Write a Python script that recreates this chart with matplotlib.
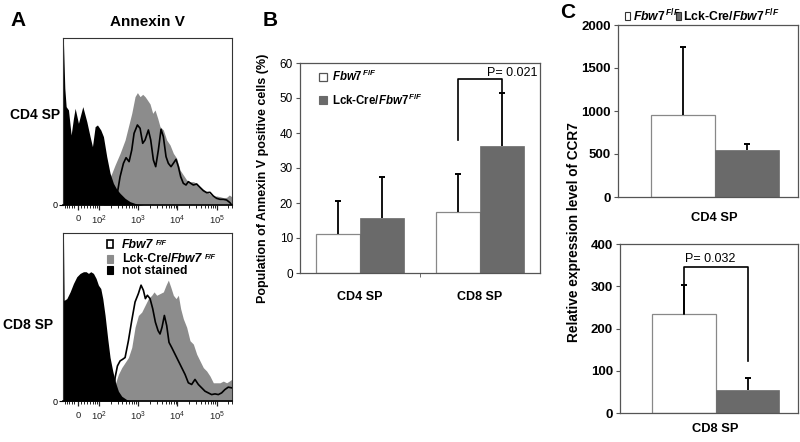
import matplotlib
matplotlib.use('Agg')
import matplotlib.pyplot as plt
from matplotlib.patches import Rectangle
from matplotlib.text import Annotation
import numpy as np

plt.rcParams['font.family'] = ['Liberation Sans', 'DejaVu Sans']
plt.rcParams['mathtext.fontset'] = 'custom'
plt.rcParams['mathtext.rm'] = 'Liberation Sans:bold'
plt.rcParams['mathtext.it'] = 'Liberation Sans:italic:bold'
plt.rcParams['mathtext.bf'] = 'Liberation Sans:bold'
plt.rcParams['mathtext.sf'] = 'Liberation Sans'

# ---------------- Panel A data (x in log-decade display units, y in % of max) ----
a1_black_x = [1.083, 1.10, 1.134, 1.168, 1.227, 1.295, 1.354, 1.397, 1.481, 1.592, 1.694, 1.778,
              1.838, 1.906, 1.965, 2.050, 2.118, 2.202, 2.287, 2.372, 2.457, 2.542, 2.669, 2.796,
              2.966, 3.135]
a1_black_y = [97, 97, 70, 59, 57, 42, 52, 58, 49, 59, 50, 41, 35, 47, 48, 45, 41, 29, 19, 13, 9.4,
              7, 4, 2, 0.6, 0]
a1_gray_x = [2.118, 2.202, 2.330, 2.414, 2.542, 2.669, 2.754, 2.839, 2.923, 2.983, 3.051, 3.118,
             3.178, 3.237, 3.305, 3.373, 3.432, 3.500, 3.559, 3.644, 3.729, 3.814, 3.899, 3.984,
             4.068, 4.153, 4.238, 4.323, 4.408, 4.493, 4.577, 4.662, 4.747, 4.832, 4.917, 5.001,
             5.086, 5.171, 5.256, 5.324, 5.383]
a1_gray_y = [0, 12, 19, 24, 31, 39, 47, 55, 65, 67.4, 65, 66.4, 65, 63, 60.6, 55, 57, 52, 47, 45,
             39, 36, 31, 28, 21, 18, 15, 14, 14, 13, 11, 9.4, 8, 6.6, 5, 5.4, 5, 4.4, 4.6, 6, 5]
a1_line_x = [2.40, 2.457, 2.542, 2.627, 2.694, 2.771, 2.839, 2.898, 2.983, 3.051, 3.118, 3.178,
             3.263, 3.322, 3.390, 3.449, 3.517, 3.585, 3.644, 3.712, 3.771, 3.839, 3.899, 3.967,
             4.026, 4.085, 4.153, 4.221, 4.280, 4.340, 4.408, 4.493, 4.577, 4.662, 4.747, 4.832,
             4.917, 5.001, 5.086, 5.171, 5.256, 5.341, 5.383]
a1_line_y = [0, 5, 17, 25, 28.4, 26, 33, 43, 48, 46, 37, 39, 45, 39, 27, 23, 33, 45.4, 41, 29, 25,
             23, 25, 27.4, 23, 17, 13, 12, 14, 13, 12, 12.6, 10.6, 8.6, 7.4, 7.6, 5.4, 4, 3.4,
             3.4, 3, 1.4, 0]

a2_black_x = [1.083, 1.10, 1.117, 1.185, 1.269, 1.354, 1.439, 1.524, 1.609, 1.677, 1.736, 1.795,
              1.863, 1.931, 1.990, 2.050, 2.101, 2.160, 2.228, 2.287, 2.355, 2.414, 2.499, 2.584,
              2.711, 2.839]
a2_black_y = [97, 97, 60, 61, 65, 70, 74, 76, 77, 77, 76, 77, 76, 73, 69, 67, 61, 51, 37, 26, 18,
              12, 6, 3, 1, 0]
a2_gray_x = [2.30, 2.414, 2.499, 2.584, 2.669, 2.754, 2.839, 2.923, 3.008, 3.093, 3.178, 3.263,
             3.347, 3.407, 3.475, 3.559, 3.644, 3.712, 3.771, 3.831, 3.899, 3.967, 4.026, 4.085,
             4.153, 4.238, 4.323, 4.408, 4.493, 4.577, 4.662, 4.747, 4.832, 4.917, 5.001, 5.086,
             5.171, 5.256, 5.324, 5.383]
a2_gray_y = [0, 10, 16, 20, 23, 26, 32, 44, 51, 53, 57, 61, 63, 65, 63, 64, 65, 69, 72, 68, 63,
             61, 63, 55, 49, 44, 36, 34, 28, 24, 20, 18, 15, 11, 11, 11, 12, 11, 12, 13]
a2_line_x = [2.37, 2.414, 2.474, 2.542, 2.610, 2.669, 2.754, 2.839, 2.923, 3.008, 3.076, 3.135,
             3.186, 3.237, 3.305, 3.373, 3.441, 3.509, 3.559, 3.610, 3.670, 3.729, 3.788, 3.856,
             3.941, 4.026, 4.111, 4.196, 4.280, 4.365, 4.450, 4.535, 4.620, 4.705, 4.789, 4.874,
             4.959, 5.044, 5.128, 5.213, 5.298, 5.383]
a2_line_y = [0, 14, 21, 24, 25, 26, 36, 48, 59, 64, 69, 66, 61, 63, 61, 55, 47, 42, 40, 44, 51,
             45, 35, 32, 28, 24, 20, 16, 11, 10, 13, 10, 8, 6, 5, 4, 4.4, 4, 5, 7, 8.4, 8]

hist_tick_pos = [1.47, 2, 3, 4, 5]
hist_tick_labels = [r'$\mathsf{0}$', r'$\mathsf{10^{2}}$', r'$\mathsf{10^{3}}$',
                    r'$\mathsf{10^{4}}$', r'$\mathsf{10^{5}}$']

# ---------------- Panel B data ----------------
b_categories = ['CD4 SP', 'CD8 SP']
b_ctrl = [11.2, 17.3]
b_ctrl_err = [9.4, 10.9]
b_ko = [15.8, 36.4]
b_ko_err = [11.7, 14.9]
b_yticks = [0, 10, 20, 30, 40, 50, 60]
b_pvalue = 'P= 0.021'
b_bracket_y = [38, 55.4, 55.4, 51.3]

# ---------------- Panel C data ----------------
c_cd4_ctrl, c_cd4_ctrl_err = 950, 795
c_cd4_ko, c_cd4_ko_err = 545, 70
c_cd8_ctrl, c_cd8_ctrl_err = 235, 67
c_cd8_ko, c_cd8_ko_err = 54, 30
c_cd4_yticks = [0, 500, 1000, 1500, 2000]
c_cd8_yticks = [0, 100, 200, 300, 400]
c_pvalue = 'P= 0.032'
c_bracket_y = [235, 346, 346, 124]

lbl_ctrl = r'$\mathit{Fbw7}^{\,F/F}$'
lbl_ko = r'Lck-Cre/$\mathit{Fbw7}^{\,F/F}$'

W, H = 800, 442
fig = plt.figure(figsize=(8, 4.42), dpi=100)


def fx(x):
    return x / W


def fy(y):
    return 1 - y / H


def axrect(l, t, r, b):
    return [l / W, 1 - b / H, (r - l) / W, (b - t) / H]


def box(x0, y0, x1, y1, fc, ec, lw=0.8):
    fig.add_artist(Rectangle((fx(x0), fy(y1)), (x1 - x0) / W, (y1 - y0) / H,
                             transform=fig.transFigure, facecolor=fc, edgecolor=ec, lw=lw))


def rich(x, y, parts, size):
    """parts: list of (text, style, scale, rise_pt, gap_pt)"""
    txt, style, scale, rise, gap = parts[0]
    prev = fig.text(fx(x), fy(y), txt, size=size * scale, weight='bold', style=style,
                    va='baseline')
    for txt, style, scale, rise, gap in parts[1:]:
        a = Annotation(txt, xy=(1, 0), xycoords=prev, xytext=(gap, rise),
                       textcoords='offset points', va='bottom', ha='left',
                       size=size * scale, weight='bold', style=style)
        fig.add_artist(a)
        prev = a


HGRAY = '#8c8c8c'
BGRAY = '#6a6a6a'

minor_pos = [1.13, 1.19, 1.25, 1.31, 1.37, 1.55, 1.62, 1.70, 1.77, 1.84, 1.90, 1.95]
for dec in (2, 3, 4):
    for k in range(2, 10):
        minor_pos.append(dec + np.log10(k))
minor_pos += [5 + np.log10(2), 5 + np.log10(2.4)]


def hist(ax, bx, by, gx, gy, lx, ly):
    ax.fill_between(gx, gy, 0, color=HGRAY, lw=0, zorder=1)
    ax.fill_between(bx, by, 0, color='black', lw=0, zorder=2)
    ax.plot(lx, ly, color='black', lw=1.2, zorder=3)
    ax.set_xlim(1.08, 5.385)
    ax.set_ylim(0, 100)
    ax.set_xticks(hist_tick_pos)
    ax.set_xticklabels(hist_tick_labels)
    ax.set_xticks(minor_pos, minor=True)
    ax.tick_params(axis='x', which='major', length=3.5, width=0.9, direction='out',
                   labelsize=6.8, pad=2.5, colors='#222')
    ax.tick_params(axis='x', which='minor', length=2, width=0.6, direction='out')
    ax.set_yticks([0])
    ax.set_yticklabels(['0'])
    ax.tick_params(axis='y', length=3, labelsize=6.5, pad=1)
    for s in ax.spines.values():
        s.set_linewidth(0.8)
        s.set_color('#333')
    ax.spines['bottom'].set_linewidth(1.2)
    ax.spines['bottom'].set_color('black')


axA1 = fig.add_axes(axrect(62.7, 38.3, 231.7, 205))
axA2 = fig.add_axes(axrect(62.7, 233, 231.7, 401.3))
hist(axA1, a1_black_x, a1_black_y, a1_gray_x, a1_gray_y, a1_line_x, a1_line_y)
hist(axA2, a2_black_x, a2_black_y, a2_gray_x, a2_gray_y, a2_line_x, a2_line_y)

# A legend
box(107, 239.5, 113, 247.5, 'white', 'black', 1.2)
box(107, 254.5, 113, 262.5, HGRAY, HGRAY)
box(107, 266, 113, 274, 'black', 'black')
rich(122, 248, [('Fbw7', 'italic', 1, 0, 0), ('F/F', 'italic', 0.6, 3.2, 2)], 8.8)
rich(122, 262.5, [('Lck-Cre/', 'normal', 1, 0, 0), ('Fbw7', 'italic', 1, 0, 0),
                  ('F/F', 'italic', 0.6, 3.2, 2)], 8.8)
rich(122, 274, [('not stained', 'normal', 1, 0, 0)], 8.8)

fig.text(fx(10), fy(20), 'A', size=15, weight='bold', va='center', ha='left')
fig.text(fx(147), fy(22), 'Annexin V', size=11, weight='bold', va='center', ha='center')
fig.text(fx(35), fy(115), 'CD4 SP', size=10, weight='bold', va='center', ha='center')
fig.text(fx(28), fy(325), 'CD8 SP', size=10, weight='bold', va='center', ha='center')

# ---------------- Panel B ----------------
axB = fig.add_axes(axrect(300, 63, 540, 273))
bw = 0.365
xb = np.arange(len(b_categories))
axB.bar(xb - bw / 2, b_ctrl, bw, color='white', edgecolor='#888', lw=0.9, zorder=2)
axB.bar(xb + bw / 2, b_ko, bw, color=BGRAY, edgecolor=BGRAY, lw=0.5, zorder=2)


def errs(ax, xs, vals, errv, cap=4.5):
    for x, v, e in zip(xs, vals, errv):
        ax.vlines(x, v, v + e, color='black', lw=1.3, zorder=3)
        ax.plot([x], [v + e], marker='_', ms=cap, mew=1.4, color='black', zorder=3)


errs(axB, xb - bw / 2, b_ctrl, b_ctrl_err)
errs(axB, xb + bw / 2, b_ko, b_ko_err)
axB.plot([1 - bw / 2, 1 - bw / 2, 1 + bw / 2, 1 + bw / 2], b_bracket_y, color='black', lw=1.2,
         zorder=3)
axB.text(1.27, 56.2, b_pvalue, size=9, ha='center', va='baseline')
axB.set_xlim(-0.5, 1.5)
axB.set_ylim(0, 60)
axB.set_yticks(b_yticks)
axB.tick_params(axis='y', length=3, labelsize=8.5, pad=2, direction='out', color='#555')
axB.set_xticks(xb)
axB.set_xticklabels(b_categories, fontsize=9, fontweight='bold')
axB.tick_params(axis='x', length=0, pad=13)
axB.set_xticks([0.5], minor=True)
axB.tick_params(axis='x', which='minor', length=3, color='#555')
for s in axB.spines.values():
    s.set_color('#555')
    s.set_linewidth(0.9)
fig.text(fx(263), fy(178), 'Population of Annexin V positive cells (%)', size=9,
         weight='bold', rotation=90, ha='center', va='center')
fig.text(fx(270), fy(20), 'B', size=15, weight='bold', va='center', ha='center')
box(319, 72.7, 327, 80.7, 'white', '#555', 0.9)
box(319, 96, 327, 104, BGRAY, BGRAY)
fig.text(fx(331.5), fy(76.7), lbl_ctrl, size=8.3, weight='bold', va='center')
fig.text(fx(331.5), fy(100), lbl_ko, size=8.3, weight='bold', va='center')

# ---------------- Panel C ----------------
cw = 0.356


def cpanel(ax, ctrl, ctrl_e, ko, ko_e, yticks, label, pad):
    xc = -0.161
    xk = 0.197
    ax.bar([xc], [ctrl], cw, color='white', edgecolor='#888', lw=0.9, zorder=2)
    ax.bar([xk], [ko], cw, color=BGRAY, edgecolor=BGRAY, lw=0.5, zorder=2)
    errs(ax, [xc], [ctrl], [ctrl_e])
    errs(ax, [xk], [ko], [ko_e])
    ax.set_xlim(-0.52, 0.48)
    ax.set_ylim(yticks[0], yticks[-1])
    ax.set_yticks(yticks)
    ax.set_yticklabels([str(t) for t in yticks], fontsize=9.5, fontweight='bold')
    ax.tick_params(axis='y', length=3, pad=2, color='#555')
    ax.set_xticks([0.017])
    ax.set_xticklabels([label], fontsize=9.3, fontweight='bold')
    ax.tick_params(axis='x', length=0, pad=pad)
    for s in ax.spines.values():
        s.set_color('#555')
        s.set_linewidth(0.9)
    return xc, xk


axC1 = fig.add_axes(axrect(618, 25, 798, 197))
cpanel(axC1, c_cd4_ctrl, c_cd4_ctrl_err, c_cd4_ko, c_cd4_ko_err, c_cd4_yticks, 'CD4 SP', 11)
axC2 = fig.add_axes(axrect(620, 244, 798, 413))
xc, xk = cpanel(axC2, c_cd8_ctrl, c_cd8_ctrl_err, c_cd8_ko, c_cd8_ko_err, c_cd8_yticks,
                'CD8 SP', 7.5)
axC2.plot([xc, xc, xk, xk], c_bracket_y, color='black', lw=1.2, zorder=3)
axC2.text(-0.014, 358, c_pvalue, size=9, ha='center', va='baseline')

fig.text(fx(574), fy(232), 'Relative expression level of CCR7', size=9.8, weight='bold',
         rotation=90, ha='center', va='center')
fig.text(fx(568), fy(13), 'C', size=15, weight='bold', va='center', ha='center')
box(625, 12, 629.5, 20, 'white', '#333', 0.8)
box(676, 12, 680.5, 20, BGRAY, '#333', 0.8)
fig.text(fx(633), fy(16), lbl_ctrl, size=8.8, weight='bold', va='center')
fig.text(fx(683), fy(16), lbl_ko, size=8.8, weight='bold', va='center')

fig.savefig('out.png', dpi=100)
